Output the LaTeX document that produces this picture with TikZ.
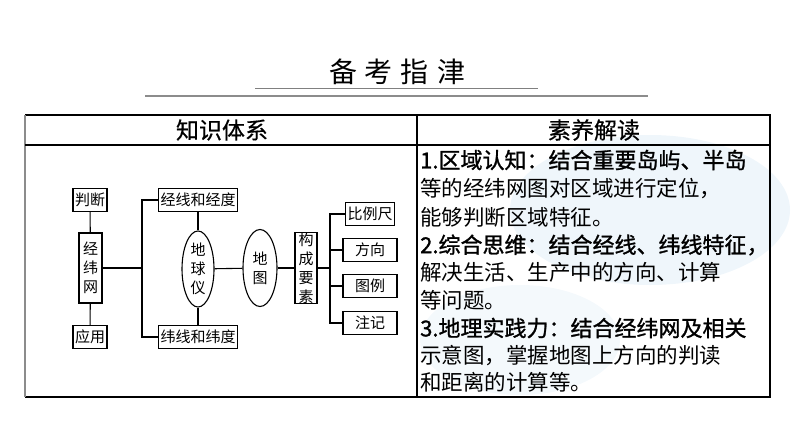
\documentclass[tikz,border=0pt]{standalone}
\usepackage{fontspec}
\usepackage{tikz}
\usetikzlibrary{shapes.geometric}
\newfontfamily\cjk{Noto Sans CJK SC}
\newfontfamily\cjkbold[FakeBold=1.2]{Noto Sans CJK SC}
\newfontfamily\cjkhead[FakeBold=0.5]{Noto Sans CJK SC}
\definecolor{lgray}{rgb}{0.55,0.55,0.55}
\definecolor{wash}{rgb}{0.88,0.93,0.97}

\begin{document}
\begin{tikzpicture}[x=1pt, y=-1pt,
	box/.style={draw, line width=1.1pt, font=\cjk\fontsize{15}{15}\selectfont, minimum height=23pt, inner sep=2pt},
	vbox/.style={draw, line width=1.1pt, font=\cjk\fontsize{15}{19}\selectfont, align=center, minimum width=23pt, inner sep=0pt},
	oval/.style={draw, ellipse, line width=1.1pt, font=\cjk\fontsize{15}{19}\selectfont, align=center, inner sep=0pt},
	conn/.style={line width=1.1pt},
	txt/.style={anchor=west, inner sep=0pt, font=\cjk\fontsize{21.5}{21.5}\selectfont},
	txtb/.style={anchor=west, inner sep=0pt, font=\cjkbold\fontsize{22}{22}\selectfont}]
			\useasboundingbox (0,0) rectangle (794,447);
			% background wash
			\fill[wash, opacity=0.5] (650,210) ellipse (140 and 75);
			\fill[wash, opacity=0.35] (520,340) ellipse (100 and 55);
			% title
			\node (title) at (397,72) {\cjk\fontsize{28}{28}\selectfont 备\hspace{8pt}考\hspace{8pt}指\hspace{8pt}津};
			\draw[lgray, line width=2.5pt] (145,96) -- (648,96);
			\draw[gray, line width=0.8pt] (255,88) -- (538,88);
			% table
			\draw[line width=1.2pt] (25,115) -- (770,115) -- (770,397) -- (25,397);
			\draw[lgray, line width=1.8pt] (25,115) -- (25,397);
			\draw[line width=1.2pt] (25,145) -- (770,145);
			\draw[line width=1.2pt] (417,115) -- (417,397);
			\node (hl) at (222,130) {\cjkhead\fontsize{23}{23}\selectfont 知识体系};
			\node (hr) at (594,130) {\cjkhead\fontsize{23}{23}\selectfont 素养解读};
			% left diagram
			\node[box] (pd) at (90,200) {判断};
			\node[vbox, minimum height=70pt] (jww) at (90.5,268) {经\\纬\\网};
			\node[box] (yy) at (90,337) {应用};
			\node[box] (jx) at (198,200) {经线和经度};
			\node[box] (wx) at (198,337) {纬线和纬度};
			\node[oval, minimum width=32pt, minimum height=76pt] (dqy) at (198,269) {地\\球\\仪};
			\node[oval, minimum width=34pt, minimum height=77pt] (dt) at (260,268) {地\\图};
			\node[vbox, minimum width=22pt, minimum height=68pt] (gc) at (306,268) {构\\成\\要\\素};
			\node[box] (blc) at (370,214) {比例尺};
			\node[box, minimum width=54pt] (fx) at (370,250) {方向};
			\node[box, minimum width=54pt] (tl) at (370,286) {图例};
			\node[box, minimum width=54pt] (zj) at (370,323) {注记};
			\coordinate (br1) at (142,268);
			\coordinate (br2) at (330,268);
			\draw[conn] (pd) -- (jww);
			\draw[conn] (jww) -- (yy);
			\draw[conn] (jww.east) -- (br1);
			\draw[conn] (jx.west) -| (br1) |- (wx.west);
			\draw[conn] (jx) -- (dqy);
			\draw[conn] (dqy) -- (wx);
			\draw[conn] (dqy) -- (dt);
			\draw[conn] (dt) -- (gc);
			\draw[conn] (gc.east) -- (br2);
			\draw[conn] (blc.west) -| (br2) |- (zj.west);
			\draw[conn] (fx.west) -- (fx.west -| br2);
			\draw[conn] (tl.west) -- (tl.west -| br2);
			% right text
			\node[txtb] (l1) at (420,160) {1.区域认知：结合重要岛屿、半岛};
			\node[txt] (l2) at (420,189) {等的经纬网图对区域进行定位，};
			\node[txt] (l3) at (420,217) {能够判断区域特征。};
			\node[txtb] (l4) at (420,245) {2.综合思维：结合经线、纬线特征，};
			\node[txt] (l5) at (420,272) {解决生活、生产中的方向、计算};
			\node[txt] (l6) at (420,300) {等问题。};
			\node[txtb] (l7) at (420,328) {3.地理实践力：结合经纬网及相关};
			\node[txt] (l8) at (420,356) {示意图，掌握地图上方向的判读};
			\node[txt] (l9) at (420,382) {和距离的计算等。};
		\end{tikzpicture}
\end{document}
